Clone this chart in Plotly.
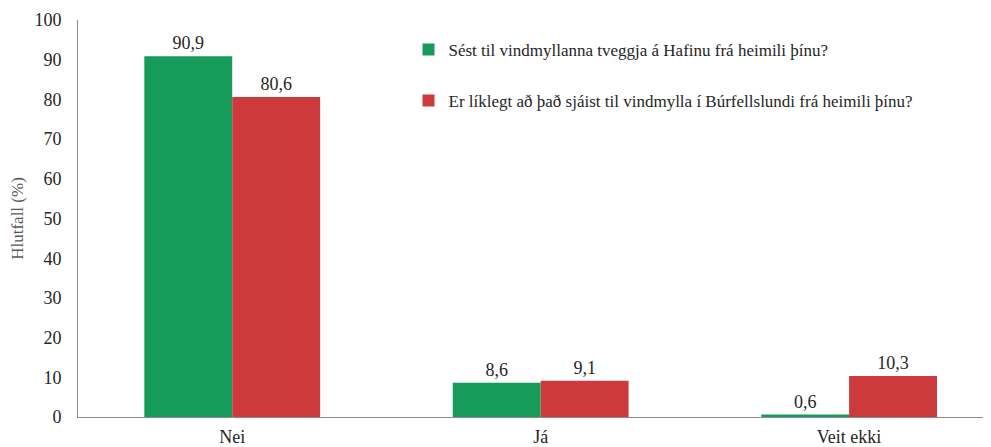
import plotly.graph_objects as go

categories = ["Nei", "Já", "Veit ekki"]
series_names = [
    "Sést til vindmyllanna tveggja á Hafinu frá heimili þínu?",
    "Er líklegt að það sjáist til vindmylla í Búrfellslundi frá heimili þínu?",
]
hafid = [90.9, 8.6, 0.6]
burfell = [80.6, 9.1, 10.3]
y_ticks = [0, 10, 20, 30, 40, 50, 60, 70, 80, 90, 100]

colors = ["#169B5A", "#CC3A3B"]
font_family = "Liberation Serif, DejaVu Serif, serif"

fig = go.Figure()
for i, (name, vals) in enumerate(zip(series_names, [hafid, burfell])):
    fig.add_trace(go.Bar(
        x=categories, y=vals, name=name,
        marker=dict(color=colors[i], line=dict(width=0)),
        text=[f"{v:.1f}".replace(".", ",") for v in vals],
        textposition="outside",
        textfont=dict(family=font_family, size=18, color="#262626"),
        cliponaxis=False,
        legendgroup=f"g{i}",
    ))

fig.update_layout(
    width=983, height=439,
    margin=dict(l=70, r=0, t=12, b=28),
    paper_bgcolor="white", plot_bgcolor="white",
    barmode="group", bargap=0.43, bargroupgap=0,
    separators=",.",
    font=dict(family=font_family, size=18, color="#262626"),
    showlegend=True,
    legend=dict(
        x=0.362, y=0.97, xanchor="left", yanchor="top",
        font=dict(family=font_family, size=17, color="#262626"),
        tracegroupgap=26, itemwidth=30, bgcolor="rgba(0,0,0,0)",
    ),
    xaxis=dict(
        range=[-0.5, 2.46], showgrid=False, showline=True,
        linecolor="#8C8C8C", linewidth=1, ticks="",
        ticklabelstandoff=3,
        tickfont=dict(family=font_family, size=18, color="#262626"),
    ),
    yaxis=dict(
        range=[0, 100], tickvals=y_ticks, showgrid=False, showline=True,
        linecolor="#8C8C8C", linewidth=1, ticks="", zeroline=False,
        ticklabelstandoff=12,
        tickfont=dict(family=font_family, size=18, color="#262626"),
        title=dict(text="Hlutfall (%)", font=dict(family=font_family, size=17, color="#595959"), standoff=10),
    ),
)

fig.write_html("out.html")
